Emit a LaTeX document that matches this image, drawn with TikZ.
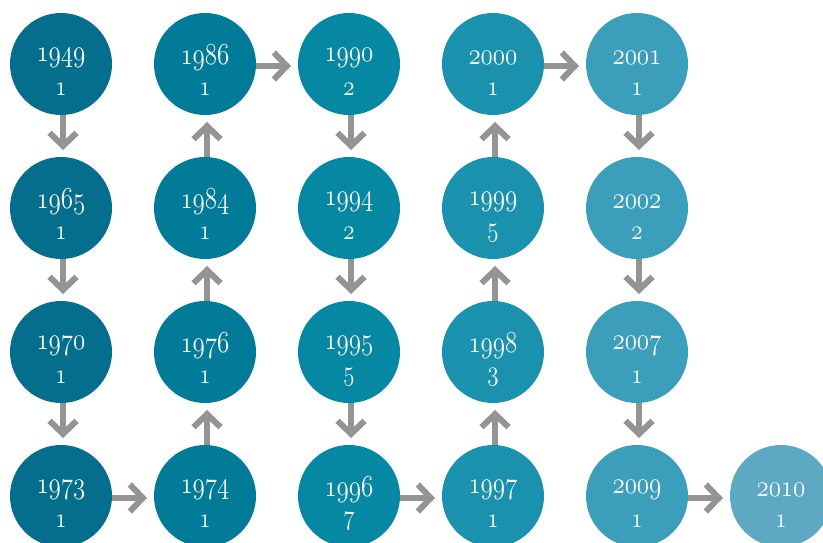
\RequirePackage{fix-cm}
\documentclass[tikz,border=0pt]{standalone}
\usepackage{graphicx}
\usetikzlibrary{arrows.meta}
\definecolor{cA}{HTML}{056E8C}
\definecolor{cB}{HTML}{017B97}
\definecolor{cC}{HTML}{0687A2}
\definecolor{cD}{HTML}{1A92AE}
\definecolor{cE}{HTML}{3B9EBA}
\definecolor{cF}{HTML}{5DA9C3}
\definecolor{arrgray}{HTML}{949494}
\newcommand\osnum[1]{\scalebox{1}[1.22]{\usefont{OML}{cmm}{m}{it}#1}}
\tikzset{
  yearnode/.style={circle, minimum size=102pt, inner sep=0pt, outer sep=0pt, draw=none},
  yrtext/.style={text=white, anchor=base, yshift=6pt, inner sep=0pt, font=\fontsize{25}{25}\selectfont},
  cnttext/.style={text=white, anchor=base, yshift=-25pt, inner sep=0pt, font=\fontsize{23}{23}\selectfont},
  arr/.style={draw=arrgray, line width=6pt, shorten >=7pt,
    -{Straight Barb[length=13pt, width=27pt, line width=6pt]}},
}
\newcommand\yearcircle[6]{%
  \node[yearnode, fill=#6,
    label={[yrtext]center:\osnum{#4}},
    label={[cnttext]center:\osnum{#5}}] (#1) at (#2,#3) {};}
\begin{document}
\begin{tikzpicture}[x=1pt, y=-1pt]
\useasboundingbox (0,0) rectangle (823,543);
% column 1
\yearcircle{n1949}{61}{64}{1949}{1}{cA}
\yearcircle{n1965}{61}{208}{1965}{1}{cA}
\yearcircle{n1970}{61}{352}{1970}{1}{cA}
\yearcircle{n1973}{61}{496}{1973}{1}{cA}
% column 2
\yearcircle{n1986}{205}{64}{1986}{1}{cB}
\yearcircle{n1984}{205}{208}{1984}{1}{cB}
\yearcircle{n1976}{205}{352}{1976}{1}{cB}
\yearcircle{n1974}{205}{496}{1974}{1}{cB}
% column 3
\yearcircle{n1990}{349}{64}{1990}{2}{cC}
\yearcircle{n1994}{349}{208}{1994}{2}{cC}
\yearcircle{n1995}{349}{352}{1995}{5}{cC}
\yearcircle{n1996}{349}{496}{1996}{7}{cC}
% column 4
\yearcircle{n2000}{493}{64}{2000}{1}{cD}
\yearcircle{n1999}{493}{208}{1999}{5}{cD}
\yearcircle{n1998}{493}{352}{1998}{3}{cD}
\yearcircle{n1997}{493}{496}{1997}{1}{cD}
% column 5
\yearcircle{n2001}{637}{64}{2001}{1}{cE}
\yearcircle{n2002}{637}{208}{2002}{2}{cE}
\yearcircle{n2007}{637}{352}{2007}{1}{cE}
\yearcircle{n2009}{637}{496}{2009}{1}{cE}
% column 6
\yearcircle{n2010}{781}{496}{2010}{1}{cF}
% down arrows
\foreach \a/\b in {n1949/n1965, n1965/n1970, n1970/n1973,
                   n1990/n1994, n1994/n1995, n1995/n1996,
                   n2001/n2002, n2002/n2007, n2007/n2009}
  \draw[arr] ([xshift=2pt]\a.south) -- ([xshift=2pt]\b.north);
% up arrows
\foreach \a/\b in {n1974/n1976, n1976/n1984, n1984/n1986,
                   n1997/n1998, n1998/n1999, n1999/n2000}
  \draw[arr] ([xshift=2pt]\a.north) -- ([xshift=2pt]\b.south);
% right arrows
\foreach \a/\b in {n1973/n1974, n1986/n1990, n1996/n1997, n2000/n2001, n2009/n2010}
  \draw[arr] ([yshift=-2pt]\a.east) -- ([yshift=-2pt]\b.west);
\end{tikzpicture}
\end{document}
